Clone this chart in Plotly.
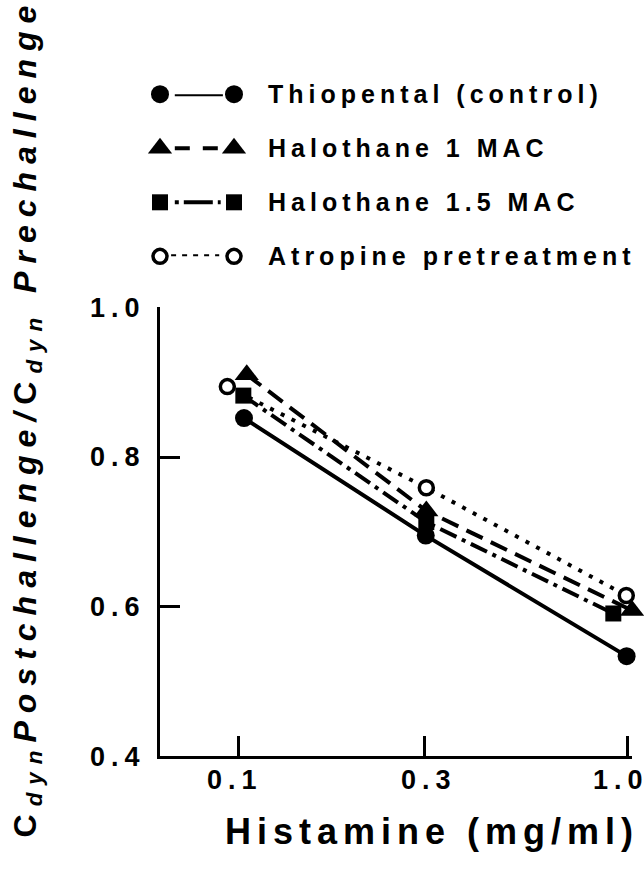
import math
import plotly.graph_objects as go

# ---------------- data ----------------
x_tick_vals = [0.1, 0.3, 1.0]
x_tick_labels = ["0.1", "0.3", "1.0"]
y_tick_vals = [0.4, 0.6, 0.8, 1.0]
y_tick_labels = ["0.4", "0.6", "0.8", "1.0"]

series_names = ["Thiopental (control)", "Halothane 1 MAC",
                "Halothane 1.5 MAC", "Atropine pretreatment"]

thiopental_x = [0.1036, 0.303, 0.992]
thiopental_y = [0.852, 0.695, 0.534]

halothane1_x = [0.1053, 0.304, 1.024]
halothane1_y = [0.910, 0.728, 0.595]

halothane15_x = [0.1032, 0.304, 0.917]
halothane15_y = [0.882, 0.713, 0.591]

atropine_x = [0.0939, 0.304, 0.990]
atropine_y = [0.894, 0.759, 0.615]

# ---------------- styles ----------------
W, H = 644, 869
FONT = "Liberation Sans, Arial, Helvetica, sans-serif"
LW = 4

styles = {
    "Thiopental (control)": dict(
        symbol="circle", size=18, fill="black", mline=0, dash="solid",
        leg_dash="solid", leg_span=(0.2, 0.85)),
    "Halothane 1 MAC": dict(
        symbol="triangle-up", size=21, fill="black", mline=0,
        dash="18px,9px", leg_dash="15px,13px", leg_span=(0.2, 0.8)),
    "Halothane 1.5 MAC": dict(
        symbol="square", size=16, fill="black", mline=0,
        dash="18px,6px,4px,6px", leg_dash="4px,5px,29px,5px,4px,30px",
        leg_span=(0.2, 0.82)),
    "Atropine pretreatment": dict(
        symbol="circle", size=14, fill="white", mline=3.5,
        dash="4px,8px", leg_dash="5px,6px", leg_span=(0.15, 0.8)),
}

data = {
    "Thiopental (control)": (thiopental_x, thiopental_y),
    "Halothane 1 MAC": (halothane1_x, halothane1_y),
    "Halothane 1.5 MAC": (halothane15_x, halothane15_y),
    "Atropine pretreatment": (atropine_x, atropine_y),
}


def spaced(txt, ls):
    """letter-spaced text; last glyph kept outside so no trailing gap"""
    return f'<span style="letter-spacing:{ls}px">{txt[:-1]}</span>{txt[-1]}'


fig = go.Figure()

draw_order = ["Atropine pretreatment", "Thiopental (control)",
              "Halothane 1.5 MAC", "Halothane 1 MAC"]
for name in draw_order:
    st = styles[name]
    xs, ys = data[name]
    fig.add_trace(go.Scatter(
        x=xs, y=ys, mode="lines+markers", name=name, cliponaxis=False,
        line=dict(color="black", width=LW, dash=st["dash"]),
        marker=dict(symbol=st["symbol"], size=st["size"], color=st["fill"],
                    line=dict(color="black", width=st["mline"])),
        showlegend=False,
    ))

# custom legend (marker - line - marker), drawn on a hidden axis pair
for i, name in enumerate(series_names):
    st = styles[name]
    fig.add_trace(go.Scatter(
        x=list(st["leg_span"]), y=[i, i], mode="lines", xaxis="x2",
        yaxis="y2", cliponaxis=False, showlegend=False, hoverinfo="skip",
        line=dict(color="black", width=LW, dash=st["leg_dash"]),
    ))
    fig.add_trace(go.Scatter(
        x=[0, 1], y=[i, i], mode="markers", xaxis="x2", yaxis="y2",
        cliponaxis=False, showlegend=False, hoverinfo="skip",
        marker=dict(symbol=st["symbol"], size=st["size"], color=st["fill"],
                    line=dict(color="black", width=st["mline"])),
    ))

# plot area geometry (pixels)
X0, X1 = 160, 632
Y0, Y1 = 768, 302.7

annotations = []
for i, name in enumerate(series_names):
    annotations.append(dict(
        text="<b>" + spaced(name, 5) + "</b>", xref="paper", yref="y2",
        x=266 / W, y=i, xanchor="left", yanchor="middle", showarrow=False,
        font=dict(family=FONT, size=25, color="black"),
    ))

label_shift = [-6, 2, -10]
for v, lab, sh in zip(x_tick_vals, x_tick_labels, label_shift):
    annotations.append(dict(
        text="<b>" + spaced(lab, 6) + "</b>", xref="x", yref="paper",
        x=math.log10(v), y=(H - 792) / H, xshift=sh,
        xanchor="center", yanchor="middle", showarrow=False,
        font=dict(family=FONT, size=27, color="black"),
    ))

annotations.append(dict(
    text="<b>" + spaced("Histamine (mg/ml)", 6) + "</b>",
    xref="paper", yref="paper",
    x=429 / W, y=(H - 846) / H, xanchor="center", yanchor="middle",
    showarrow=False, font=dict(family=FONT, size=36, color="black"),
))

annotations.append(dict(
    text='<b><span style="letter-spacing:8px">C<sub><i>dyn</i></sub>'
         '<i>Postchallenge/</i>C<sub><i>dyn</i></sub> <i>Prechalleng</i>'
         '</span><i>e</i></b>',
    xref="paper", yref="paper", x=27 / W, y=(H - 421) / H, textangle=-90,
    xanchor="center", yanchor="middle", showarrow=False,
    font=dict(family=FONT, size=32, color="black"),
))

fig.update_layout(
    width=W, height=H,
    margin=dict(l=0, r=0, t=0, b=0, pad=0),
    paper_bgcolor="white", plot_bgcolor="white",
    showlegend=False,
    xaxis=dict(
        type="log", domain=[X0 / W, X1 / W], range=[-1.2, 0.0103],
        tickvals=x_tick_vals, showticklabels=False,
        ticks="inside", ticklen=20, tickwidth=3, tickcolor="black",
        showline=True, linewidth=3, linecolor="black",
        showgrid=False, zeroline=False, anchor="y",
    ),
    yaxis=dict(
        domain=[(H - Y0) / H, (H - Y1) / H], range=[0.4, 1.0],
        tickvals=y_tick_vals,
        ticktext=["<b>" + spaced(t, 6) + "</b>" for t in y_tick_labels],
        tickfont=dict(family=FONT, size=27, color="black"),
        ticks="inside", ticklen=20, tickwidth=3, tickcolor="black",
        ticklabelstandoff=12,
        showline=True, linewidth=3, linecolor="black",
        showgrid=False, zeroline=False, anchor="x",
    ),
    xaxis2=dict(domain=[160 / W, 234 / W], range=[0, 1], visible=False,
                anchor="y2"),
    yaxis2=dict(domain=[(H - 250) / H, (H - 82) / H], range=[3, 0],
                visible=False, anchor="x2"),
    annotations=annotations,
)

fig.write_html(
    "out.html",
    config={"displayModeBar": False},
    post_script="document.body.style.margin='0';"
                "document.body.style.overflow='hidden';",
)
